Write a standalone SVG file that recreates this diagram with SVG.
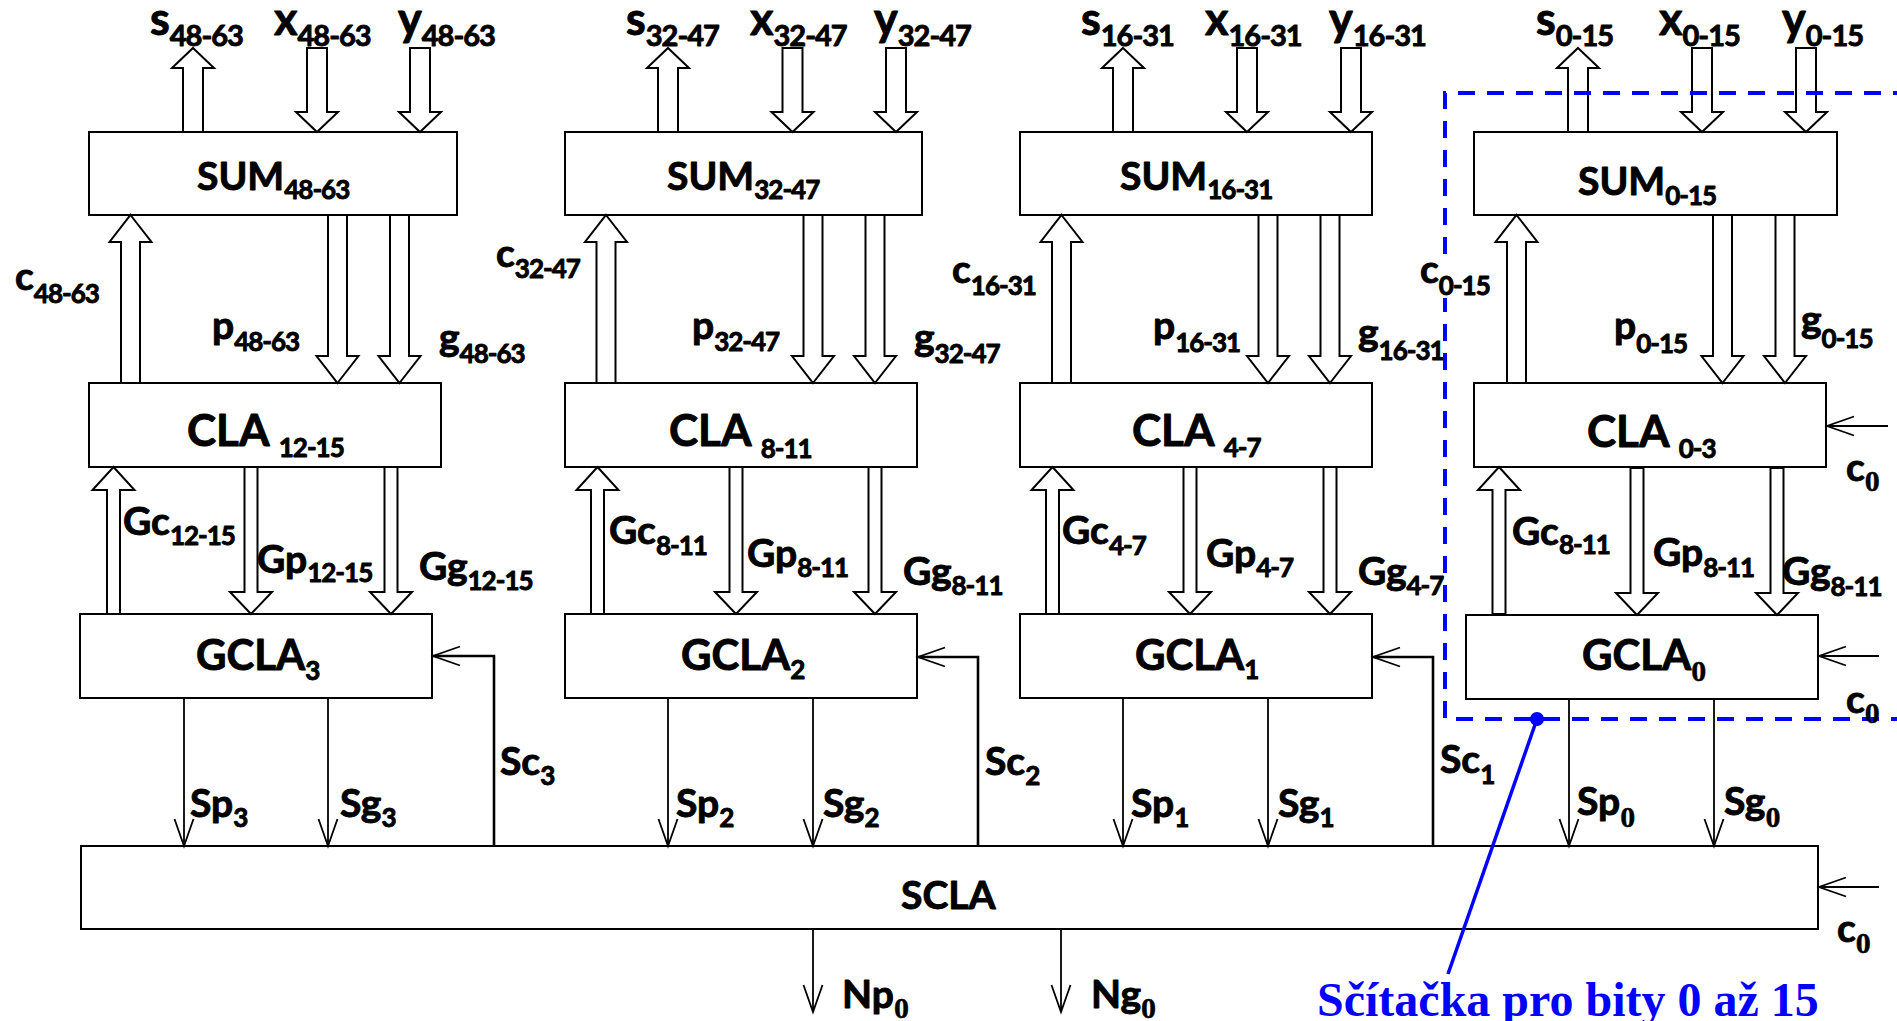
<svg xmlns="http://www.w3.org/2000/svg" xmlns:xlink="http://www.w3.org/1999/xlink" width="1897" height="1021" viewBox="0 0 1897 1021">
  <style>
    .box { fill: #fff; stroke: #000; stroke-width: 2; }
    .bus { fill: #fff; stroke: #000; stroke-width: 2; stroke-linejoin: miter; }
    .wire { fill: none; stroke: #000; stroke-width: 1.8; }
    .sc { fill: none; stroke: #000; stroke-width: 2.6; }
    .lbl { font-family: Lato, "Liberation Sans", sans-serif; font-weight: bold; font-size: 39px; fill: #000; stroke: #000; stroke-width: 0.9; stroke-linejoin: round; }
    .io { font-size: 45px; }
    .cla { font-size: 44px; }
    .gcla { font-size: 42px; }
    .sub { font-size: 26px; letter-spacing: -1px; }
    .io .sub { font-size: 29px; }
    .zero { font-family: "Liberation Serif", serif; font-weight: bold; font-size: 30px; stroke-width: 0.4; }
    .frame { fill: none; stroke: #0000ff; stroke-width: 4; stroke-dasharray: 17 12; }
    .note { font-family: "Liberation Serif", serif; font-weight: bold; font-size: 48px; fill: #0000ff; }
  </style>
  <defs>
    <!-- hollow bus arrows, tip at the origin -->
    <path id="ioUp" class="bus" d="M0,0 L21,20 L10,20 L10,84 L-10,84 L-10,20 L-21,20 Z"/>
    <path id="ioDown" class="bus" d="M0,0 L21,-20 L10,-20 L10,-84 L-10,-84 L-10,-20 L-21,-20 Z"/>
    <path id="busUp" class="bus" d="M0,0 L21,27 L9.5,27 L9.5,168 L-9.5,168 L-9.5,27 L-21,27 Z"/>
    <path id="busDown" class="bus" d="M0,0 L21,-27 L9.5,-27 L9.5,-168 L-9.5,-168 L-9.5,-27 L-21,-27 Z"/>
    <path id="grpUp" class="bus" d="M0,0 L21,23 L6.5,23 L6.5,147 L-6.5,147 L-6.5,23 L-21,23 Z"/>
    <path id="grpDown" class="bus" d="M0,0 L21,-22 L6.5,-22 L6.5,-147 L-6.5,-147 L-6.5,-22 L-21,-22 Z"/>
    <!-- open arrowhead for single wires -->
    <marker id="open" markerUnits="userSpaceOnUse" viewBox="0 0 30 20" markerWidth="30" markerHeight="20" refX="27" refY="10" orient="auto" overflow="visible">
      <path d="M0,0.5 L27,10 L0,19.5" fill="none" stroke="#000" stroke-width="1.8"/>
    </marker>
  </defs>

  <rect width="1897" height="1021" fill="#fff"/>

  <!-- block 48-63 -->
  <g id="sum3"><rect class="box" x="89" y="132" width="368" height="83"/>
    <text class="lbl" x="197" y="190">SUM<tspan class="sub" dy="9">48-63</tspan></text></g>
  <g id="cla3"><rect class="box" x="89" y="383" width="352" height="84"/>
    <text class="lbl cla" x="187" y="446">CLA <tspan class="sub" dy="11">12-15</tspan></text></g>
  <g id="gcla3"><rect class="box" x="80" y="614" width="352" height="84"/>
    <text class="lbl gcla" x="196" y="670">GCLA<tspan class="sub" dy="10">3</tspan></text></g>

  <!-- block 32-47 -->
  <g id="sum2"><rect class="box" x="565" y="132" width="357" height="83"/>
    <text class="lbl" x="667" y="190">SUM<tspan class="sub" dy="9">32-47</tspan></text></g>
  <g id="cla2"><rect class="box" x="565" y="383" width="352" height="84"/>
    <text class="lbl cla" x="669" y="446">CLA <tspan class="sub" dy="12">8-11</tspan></text></g>
  <g id="gcla2"><rect class="box" x="565" y="614" width="352" height="84"/>
    <text class="lbl gcla" x="681" y="670">GCLA<tspan class="sub" dy="9">2</tspan></text></g>

  <!-- block 16-31 -->
  <g id="sum1"><rect class="box" x="1020" y="132" width="352" height="83"/>
    <text class="lbl" x="1120" y="190">SUM<tspan class="sub" dy="9">16-31</tspan></text></g>
  <g id="cla1"><rect class="box" x="1020" y="383" width="352" height="84"/>
    <text class="lbl cla" x="1132" y="446">CLA <tspan class="sub" dy="11">4-7</tspan></text></g>
  <g id="gcla1"><rect class="box" x="1020" y="614" width="352" height="84"/>
    <text class="lbl gcla" x="1135" y="670">GCLA<tspan class="sub" dy="9">1</tspan></text></g>

  <!-- block 0-15 -->
  <g id="sum0"><rect class="box" x="1474" y="132" width="363" height="83"/>
    <text class="lbl" x="1578" y="195" font-size="43">SUM<tspan class="sub" dy="10" font-size="29">0-15</tspan></text></g>
  <g id="cla0"><rect class="box" x="1474" y="383" width="352" height="84"/>
    <text class="lbl cla" x="1587" y="447">CLA <tspan class="sub" dy="11">0-3</tspan></text></g>
  <g id="gcla0"><rect class="box" x="1466" y="615" width="352" height="84"/>
    <text class="lbl gcla" x="1582" y="670">GCLA<tspan class="zero" dy="11">0</tspan></text></g>

  <!-- second-level carry lookahead -->
  <g id="scla"><rect class="box" x="81" y="846" width="1737" height="83"/>
    <text class="lbl" x="901" y="909">SCLA</text></g>

  <!-- connectors -->
  <g id="connectors">
    <use xlink:href="#ioUp" x="193" y="48"/>
    <use xlink:href="#ioDown" x="317" y="132"/>
    <use xlink:href="#ioDown" x="420" y="132"/>
    <use xlink:href="#ioUp" x="668" y="48"/>
    <use xlink:href="#ioDown" x="792.5" y="132"/>
    <use xlink:href="#ioDown" x="896" y="132"/>
    <use xlink:href="#ioUp" x="1123" y="48"/>
    <use xlink:href="#ioDown" x="1247" y="132"/>
    <use xlink:href="#ioDown" x="1351" y="132"/>
    <use xlink:href="#ioUp" x="1578" y="48"/>
    <use xlink:href="#ioDown" x="1702" y="132"/>
    <use xlink:href="#ioDown" x="1806" y="132"/>

    <use xlink:href="#busUp" x="130.5" y="215"/>
    <use xlink:href="#busDown" x="337.5" y="383"/>
    <use xlink:href="#busDown" x="399.5" y="383"/>
    <use xlink:href="#busUp" x="606" y="215"/>
    <use xlink:href="#busDown" x="813" y="383"/>
    <use xlink:href="#busDown" x="875" y="383"/>
    <use xlink:href="#busUp" x="1061.5" y="215"/>
    <use xlink:href="#busDown" x="1268" y="383"/>
    <use xlink:href="#busDown" x="1330" y="383"/>
    <use xlink:href="#busUp" x="1516.5" y="215"/>
    <use xlink:href="#busDown" x="1722.5" y="383"/>
    <use xlink:href="#busDown" x="1785" y="383"/>

    <use xlink:href="#grpUp" x="113.5" y="467"/>
    <use xlink:href="#grpDown" x="251" y="614"/>
    <use xlink:href="#grpDown" x="391" y="614"/>
    <use xlink:href="#grpUp" x="597.5" y="467"/>
    <use xlink:href="#grpDown" x="736" y="614"/>
    <use xlink:href="#grpDown" x="875" y="614"/>
    <use xlink:href="#grpUp" x="1052.5" y="467"/>
    <use xlink:href="#grpDown" x="1190" y="614"/>
    <use xlink:href="#grpDown" x="1330" y="614"/>
    <use xlink:href="#grpUp" x="1499" y="467"/>
    <use xlink:href="#grpDown" x="1637" y="615"/>
    <use xlink:href="#grpDown" x="1777" y="615"/>

    <path class="wire" marker-end="url(#open)" d="M184,698 V846"/>
    <path class="wire" marker-end="url(#open)" d="M328,698 V846"/>
    <path class="wire" marker-end="url(#open)" d="M668,698 V846"/>
    <path class="wire" marker-end="url(#open)" d="M813,698 V846"/>
    <path class="wire" marker-end="url(#open)" d="M1123,698 V846"/>
    <path class="wire" marker-end="url(#open)" d="M1268,698 V846"/>
    <path class="wire" marker-end="url(#open)" d="M1569,699 V846"/>
    <path class="wire" marker-end="url(#open)" d="M1714,699 V846"/>

    <path class="sc" marker-end="url(#open)" d="M494,846 V656 H433"/>
    <path class="sc" marker-end="url(#open)" d="M978,846 V657 H918"/>
    <path class="sc" marker-end="url(#open)" d="M1433,846 V657 H1373"/>

    <path class="wire" marker-end="url(#open)" d="M1888,426 H1827"/>
    <path class="wire" marker-end="url(#open)" d="M1879,656 H1819"/>
    <path class="wire" marker-end="url(#open)" d="M1879,887 H1819"/>

    <path class="wire" marker-end="url(#open)" d="M813,929 V1012"/>
    <path class="wire" marker-end="url(#open)" d="M1061,929 V1012"/>
  </g>

  <!-- outline of the 16-bit adder -->
  <g id="adder0-frame">
    <path class="frame" d="M1910,93 H1445 V719 H1910"/>
    <line x1="1537" y1="719" x2="1448" y2="974" stroke="#0000ff" stroke-width="3.5"/>
    <circle cx="1537" cy="719" r="7" fill="#0000ff"/>
    <text class="note" x="1317" y="1016">Sčítačka pro bity 0 až 15</text>
  </g>

  <!-- signal labels -->
  <g id="labels">
    <text class="lbl io" x="150" y="35">s<tspan class="sub" dy="11">48-63</tspan></text>
    <text class="lbl io" x="274" y="35">x<tspan class="sub" dy="11">48-63</tspan></text>
    <text class="lbl io" x="398" y="35">y<tspan class="sub" dy="11">48-63</tspan></text>
    <text class="lbl io" x="626" y="35">s<tspan class="sub" dy="11">32-47</tspan></text>
    <text class="lbl io" x="750" y="35">x<tspan class="sub" dy="11">32-47</tspan></text>
    <text class="lbl io" x="874" y="35">y<tspan class="sub" dy="11">32-47</tspan></text>
    <text class="lbl io" x="1081" y="35">s<tspan class="sub" dy="11">16-31</tspan></text>
    <text class="lbl io" x="1205" y="35">x<tspan class="sub" dy="11">16-31</tspan></text>
    <text class="lbl io" x="1329" y="35">y<tspan class="sub" dy="11">16-31</tspan></text>
    <text class="lbl io" x="1536" y="35">s<tspan class="sub" dy="11">0-15</tspan></text>
    <text class="lbl io" x="1659" y="35">x<tspan class="sub" dy="11">0-15</tspan></text>
    <text class="lbl io" x="1782" y="35">y<tspan class="sub" dy="11">0-15</tspan></text>

    <text class="lbl" x="15" y="290">c<tspan class="sub" dy="13">48-63</tspan></text>
    <text class="lbl" x="496" y="267">c<tspan class="sub" dy="11">32-47</tspan></text>
    <text class="lbl" x="952" y="283">c<tspan class="sub" dy="12">16-31</tspan></text>
    <rect x="1440" y="256" width="56" height="42" fill="#fff"/>
    <text class="lbl" x="1420" y="283">c<tspan class="sub" dy="12">0-15</tspan></text>

    <text class="lbl" x="212" y="339">p<tspan class="sub" dy="12">48-63</tspan></text>
    <text class="lbl" x="692" y="339">p<tspan class="sub" dy="12">32-47</tspan></text>
    <text class="lbl" x="1153" y="339">p<tspan class="sub" dy="13">16-31</tspan></text>
    <text class="lbl" x="1614" y="339">p<tspan class="sub" dy="14">0-15</tspan></text>

    <text class="lbl" x="439" y="351">g<tspan class="sub" dy="12">48-63</tspan></text>
    <text class="lbl" x="914" y="351">g<tspan class="sub" dy="12">32-47</tspan></text>
    <text class="lbl" x="1358" y="346">g<tspan class="sub" dy="14">16-31</tspan></text>
    <text class="lbl" x="1801" y="333">g<tspan class="sub" dy="15">0-15</tspan></text>

    <text class="lbl" x="123" y="535">Gc<tspan class="sub" dy="10">12-15</tspan></text>
    <text class="lbl" x="257" y="573">Gp<tspan class="sub" dy="9">12-15</tspan></text>
    <text class="lbl" x="419" y="580">Gg<tspan class="sub" dy="10">12-15</tspan></text>
    <text class="lbl" x="609" y="544">Gc<tspan class="sub" dy="11">8-11</tspan></text>
    <text class="lbl" x="747" y="567">Gp<tspan class="sub" dy="10">8-11</tspan></text>
    <text class="lbl" x="903" y="585">Gg<tspan class="sub" dy="10">8-11</tspan></text>
    <text class="lbl" x="1062" y="544">Gc<tspan class="sub" dy="11">4-7</tspan></text>
    <text class="lbl" x="1206" y="567">Gp<tspan class="sub" dy="10">4-7</tspan></text>
    <text class="lbl" x="1358" y="585">Gg<tspan class="sub" dy="10">4-7</tspan></text>
    <text class="lbl" x="1512" y="545">Gc<tspan class="sub" dy="9">8-11</tspan></text>
    <text class="lbl" x="1653" y="566">Gp<tspan class="sub" dy="11">8-11</tspan></text>
    <text class="lbl" x="1782" y="585">Gg<tspan class="sub" dy="11">8-11</tspan></text>

    <text class="lbl" x="500" y="775">Sc<tspan class="sub" dy="10">3</tspan></text>
    <text class="lbl" x="985" y="775">Sc<tspan class="sub" dy="10">2</tspan></text>
    <text class="lbl" x="1440" y="773">Sc<tspan class="sub" dy="11">1</tspan></text>

    <text class="lbl" x="190" y="817">Sp<tspan class="sub" dy="10">3</tspan></text>
    <text class="lbl" x="340" y="817">Sg<tspan class="sub" dy="10">3</tspan></text>
    <text class="lbl" x="676" y="817">Sp<tspan class="sub" dy="10">2</tspan></text>
    <text class="lbl" x="823" y="817">Sg<tspan class="sub" dy="10">2</tspan></text>
    <text class="lbl" x="1131" y="817">Sp<tspan class="sub" dy="10">1</tspan></text>
    <text class="lbl" x="1278" y="817">Sg<tspan class="sub" dy="10">1</tspan></text>
    <text class="lbl" x="1577" y="815">Sp<tspan class="zero" dy="12">0</tspan></text>
    <text class="lbl" x="1724" y="815">Sg<tspan class="zero" dy="12">0</tspan></text>

    <text class="lbl" x="1846" y="481">c<tspan class="zero" dy="10">0</tspan></text>
    <text class="lbl" x="1846" y="713">c<tspan class="zero" dy="10">0</tspan></text>
    <text class="lbl" x="1837" y="942">c<tspan class="zero" dy="11">0</tspan></text>

    <text class="lbl" x="842" y="1008">Np<tspan class="zero" dy="10">0</tspan></text>
    <text class="lbl" x="1091" y="1008">Ng<tspan class="zero" dy="10">0</tspan></text>
  </g>
</svg>
